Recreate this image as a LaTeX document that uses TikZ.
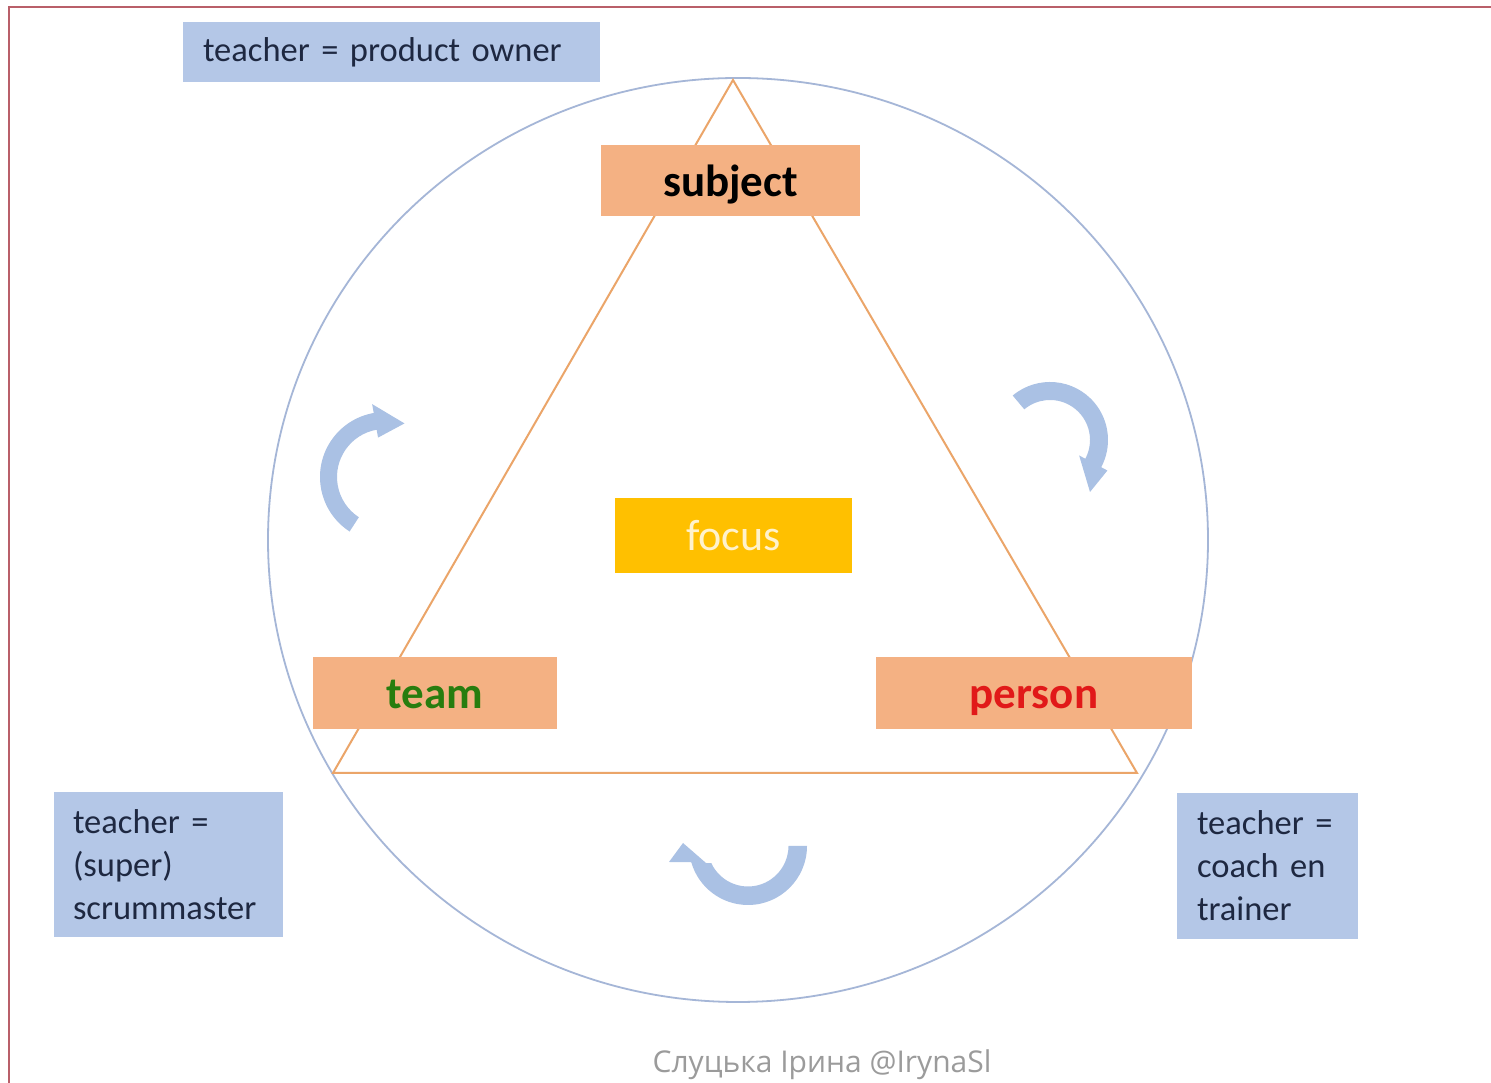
\documentclass[tikz,border=0pt]{standalone}
\usepackage{fontspec}
\usetikzlibrary{shapes.geometric}
\setmainfont{Carlito}
\newfontfamily\wmfont{Open Sans}
\definecolor{boxblue}{RGB}{180,199,231}
\definecolor{peach}{RGB}{244,177,131}
\definecolor{focusyel}{RGB}{255,192,0}
\definecolor{focustxt}{RGB}{255,242,204}
\definecolor{navytxt}{RGB}{30,40,65}
\definecolor{teamgreen}{RGB}{40,125,15}
\definecolor{personred}{RGB}{225,25,25}
\definecolor{triorange}{RGB}{235,165,105}
\definecolor{circblue}{RGB}{165,182,215}
\definecolor{arrowblue}{RGB}{170,193,228}
\definecolor{framered}{RGB}{185,95,105}
\definecolor{wmgray}{RGB}{155,155,155}
\tikzset{
  notebox/.style={fill=boxblue, text=navytxt, align=left, inner ysep=0pt,
    font=\fontsize{34.5}{43}\selectfont},
  rolebox/.style={fill=peach, inner sep=0pt, text height=36pt, text depth=4pt,
    font=\bfseries\fontsize{45}{50}\selectfont},
  curvarrow/.style={fill=arrowblue, draw=none}
}
\begin{document}
\begin{tikzpicture}[x=1pt,y=1pt]
\useasboundingbox (0,0) rectangle (1491,1083);
\fill[white] (0,0) rectangle (1491,1083);
% frame
\coordinate (fbl) at (9,0);
\coordinate (ftl) at (9,1076);
\coordinate (ftr) at (1491,1076);
\draw[framered, line width=2.5pt] (fbl) -- (ftl) -- (ftr);
% circle
\node[draw=circblue, line width=1.8pt, ellipse, minimum width=940pt, minimum height=924pt, inner sep=0pt] (circ) at (738,543) {};
% triangle
\coordinate (A) at (733,1003);
\coordinate (B) at (333,310);
\coordinate (C) at (1137,310);
\draw[triorange, line width=2pt, line join=miter] (A) -- (B) -- (C) -- cycle;
% role boxes
\node[rolebox, minimum width=259pt, minimum height=71pt, text=black] (subject) at (730.5,902.5) {subject};
\node[rolebox, minimum width=244pt, minimum height=72pt, text=teamgreen] (team) at (435,390) {team};
\node[rolebox, minimum width=316pt, minimum height=72pt, text=personred] (person) at (1034,390) {person};
\node[fill=focusyel, text=focustxt, inner sep=0pt, minimum width=237pt, minimum height=75pt, font=\fontsize{44}{50}\selectfont] (focus) at (733.5,547.5) {focus};
% teacher boxes
\node[notebox, text width=377pt, inner xsep=20pt, minimum height=60pt] (po) at (391.5,1031) {teacher = product owner};
\node[notebox, text width=191pt, inner xsep=19pt, minimum height=145pt] (sm) at (168.5,218.5) {teacher =\\(super)\\scrummaster};
\node[notebox, text width=141pt, inner xsep=20pt, minimum height=146pt] (coach) at (1267.5,217) {teacher =\\coach en\\trainer};
% curved arrows
\begin{scope}[shift={(385,606)}]
\fill[curvarrow] (237:65pt) arc[start angle=237, end angle=100, radius=65pt]
  -- (100:74pt) -- (70:57pt) -- (100:40pt) -- (100:48pt)
  arc[start angle=100, end angle=237, radius=48pt] -- cycle;
\end{scope}
\begin{scope}[shift={(1050,643)}]
\fill[curvarrow] (130:58pt) arc[start angle=130, end angle=-28, radius=58pt]
  -- (-28:65pt) -- (40pt,-52pt) -- (-28:33pt) -- (-28:40pt)
  arc[start angle=-28, end angle=130, radius=40pt] -- cycle;
\end{scope}
\begin{scope}[shift={(748,237)}]
\fill[curvarrow] (0:59pt) arc[start angle=0, end angle=-164, radius=59pt]
  -- (-79pt,-16pt) -- (-65pt,3pt) -- (-42pt,-17pt) -- (-155:40.5pt)
  arc[start angle=-155, end angle=0, radius=40.5pt] -- cycle;
\end{scope}
% watermark
\node[font=\wmfont\fontsize{30}{36}\selectfont, text=wmgray, inner sep=0pt] (wm) at (822,18) {Слуцька Ірина @IrynaSl};
\end{tikzpicture}
\end{document}
